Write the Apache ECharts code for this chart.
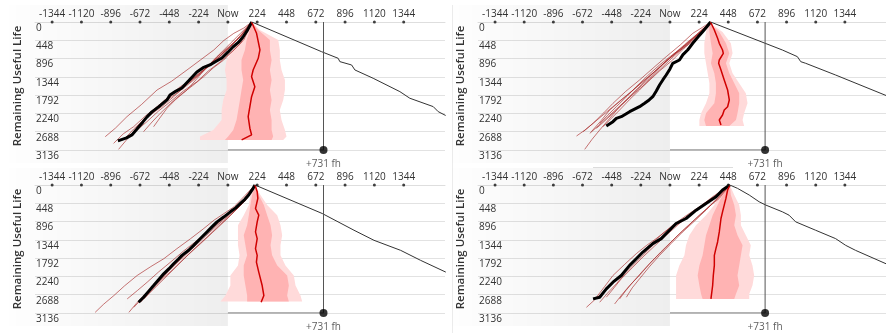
<!DOCTYPE html>
<html><head><meta charset="utf-8">
<style>html,body{margin:0;padding:0;background:#fff}#c{width:886px;height:336px}</style>
<script src="https://cdn.jsdelivr.net/npm/echarts@6/dist/echarts.min.js"></script>
</head><body><div id="c"></div>
<script>
// ---------- axes ----------
const xTicks = [-1344,-1120,-896,-672,-448,-224,0,224,448,672,896,1120,1344];
const X_MIN = -1475, X_MAX = 1660;
const Y_MAX = 3136, Y_STEP = 448;
const markerFh = 731;        // vertical marker (+731 fh)
const markerRul = 3136;      // level of the horizontal marker

// ---------- panel 1 (top-left) ----------
const p1Actual = [[-841,2913],[-775,2840],[-734,2766],[-700,2640],[-650,2448],[-620,2330],[-581,2203],[-530,2080],[-466,1910],[-443,1787],[-400,1700],[-352,1616],[-300,1440],[-237,1224],[-190,1120],[-138,1053],[-90,960],[-46,881],[0,740],[38,612],[80,500],[115,367],[150,200],[183,0]];
const p1Samples = [
 [[-938,2810],[-860,2600],[-772,2319],[-660,2020],[-542,1666],[-430,1450],[-313,1176],[-210,930],[-108,686],[-30,450],[45,278],[120,150],[183,0]],
 [[-836,3120],[-760,2830],[-670,2483],[-590,2260],[-491,1993],[-400,1700],[-313,1503],[-210,1230],[-108,1012],[-20,700],[70,441],[130,230],[183,0]],
 [[-568,2565],[-520,2350],[-466,2115],[-400,1900],[-313,1666],[-240,1400],[-159,1094],[-70,850],[19,605],[100,330],[183,0]],
 [[-798,2891],[-720,2620],[-645,2401],[-560,2180],[-466,1911],[-370,1700],[-262,1421],[-170,1150],[-83,850],[10,600],[96,360],[183,0]],
 [[-874,2973],[-800,2740],[-721,2565],[-630,2300],[-542,2074],[-450,1820],[-364,1584],[-270,1400],[-185,1176],[-90,920],[-6,686],[90,350],[183,0]],
 [[-721,2728],[-660,2480],[-594,2278],[-500,2060],[-415,1829],[-310,1520],[-210,1258],[-130,1000],[-57,768],[20,520],[96,278],[183,0]],
 [[-645,2687],[-580,2450],[-517,2238],[-440,2000],[-364,1788],[-270,1560],[-185,1339],[-110,1120],[-32,931],[40,700],[96,523],[183,0]],
 [[-772,2850],[-700,2660],[-619,2442],[-530,2180],[-440,1952],[-340,1690],[-236,1462],[-150,1200],[-57,972],[40,700],[121,441],[183,0]]
];
const p1BandRul = [0,196,440,685,930,1175,1420,1665,1910,2154,2399,2644,2807,2889];
const p1OuterL  = [183,155,117,41,-10,-23,-10,-10,-36,-48,-48,-112,-214,-214];
const p1InnerL  = [183,168,143,130,104,104,117,104,92,79,66,41,2,-23];
const p1InnerR  = [183,232,321,321,334,321,334,321,334,321,334,334,346,334];
const p1OuterR  = [183,244,385,397,397,410,436,436,423,397,410,436,448,423];
const p1Median  = [[181,0],[219,277],[245,685],[232,889],[193,1175],[181,1339],[206,1584],[181,1829],[168,2073],[155,2318],[168,2602],[181,2766],[105,2889]];
const p1Forecast = [[183,0],[716,727],[843,889],[856,971],[946,1053],[971,1175],[1111,1379],[1315,1706],[1391,1868],[1570,2073],[1608,2196],[1665,2290]];

// ---------- panel 2 (top-right) ----------
const p2Actual = [[-489,2548],[-438,2442],[-412,2360],[-374,2320],[-310,2197],[-234,2075],[-195,1992],[-160,1910],[-132,1830],[-105,1690],[-80,1544],[-55,1420],[-29,1299],[0,1150],[21,1012],[73,931],[100,800],[136,686],[175,522],[215,370],[251,237],[285,110],[312,0]];
const p2Samples = [
 [[-718,2793],[-650,2640],[-591,2483],[-510,2230],[-438,1993],[-340,1700],[-234,1421],[-130,1130],[-29,850],[80,560],[175,278],[250,130],[312,0]],
 [[-655,3120],[-600,2880],[-540,2646],[-460,2350],[-387,2074],[-290,1790],[-182,1503],[-80,1200],[21,931],[110,640],[200,360],[312,0]],
 [[-565,2606],[-500,2420],[-438,2238],[-370,2030],[-310,1829],[-220,1540],[-132,1258],[-30,960],[73,686],[150,470],[226,278],[312,0]],
 [[-616,2728],[-550,2540],[-489,2360],[-410,2130],[-335,1911],[-250,1650],[-157,1380],[-70,1090],[21,809],[110,560],[200,319],[312,0]],
 [[-514,2565],[-450,2360],[-387,2156],[-310,1900],[-234,1666],[-160,1420],[-80,1176],[10,900],[98,646],[180,420],[251,237],[312,0]],
 [[-667,2687],[-590,2480],[-514,2278],[-440,2080],[-361,1870],[-280,1660],[-208,1462],[-100,1170],[-4,890],[90,640],[175,400],[312,0]],
 [[-540,2483],[-480,2290],[-412,2074],[-330,1820],[-259,1584],[-170,1310],[-80,1053],[20,800],[124,564],[220,280],[312,0]],
 [[-604,2687],[-530,2420],[-463,2156],[-380,1930],[-297,1707],[-210,1460],[-119,1217],[-40,990],[47,768],[140,560],[226,360],[312,0]]
];
const p2BandRul = [0,82,245,522,767,1012,1257,1502,1747,1992,2238,2401,2548];
const p2OuterL  = [312,290,277,264,264,277,290,303,303,277,239,226,226];
const p2InnerL  = [312,300,303,315,328,315,341,353,353,341,277,264,277];
const p2InnerR  = [312,320,379,430,456,430,456,494,532,532,519,507,456];
const p2OuterR  = [312,330,404,468,481,456,481,532,583,596,570,558,570];
const p2Median  = [[312,0],[341,196],[366,400],[379,522],[404,686],[410,767],[379,931],[374,1012],[392,1176],[417,1421],[443,1666],[456,1911],[443,2075],[417,2156],[404,2279],[379,2401],[392,2524]];
const p2Forecast = [[312,0],[864,686],[979,849],[1005,972],[1043,1012],[1273,1299],[1660,1800]];

// ---------- panel 3 (bottom-left) ----------
const p3Actual = [[-683,2873],[-645,2750],[-605,2600],[-568,2463],[-530,2320],[-491,2176],[-450,2050],[-415,1929],[-380,1820],[-351,1724],[-300,1600],[-262,1478],[-210,1310],[-159,1149],[-120,1020],[-83,903],[-30,780],[19,657],[60,560],[96,452],[130,350],[159,246],[185,120],[207,0]];
const p3Samples = [
 [[-1015,3120],[-950,2920],[-872,2709],[-790,2470],[-694,2217],[-590,2000],[-490,1806],[-390,1560],[-285,1314],[-190,1080],[-106,862],[-30,700],[47,534],[130,260],[207,0]],
 [[-770,2791],[-690,2580],[-617,2381],[-530,2130],[-438,1888],[-340,1620],[-234,1355],[-140,1100],[-55,862],[20,640],[98,452],[150,220],[207,0]],
 [[-757,3120],[-700,2900],[-643,2709],[-580,2500],[-515,2299],[-440,2060],[-362,1806],[-270,1510],[-183,1232],[-90,980],[-4,739],[80,500],[149,287],[207,0]],
 [[-719,2997],[-650,2760],[-592,2545],[-510,2300],[-438,2052],[-350,1790],[-260,1519],[-170,1250],[-81,985],[10,740],[98,493],[160,250],[207,0]],
 [[-643,2791],[-590,2620],[-541,2463],[-460,2210],[-387,1970],[-300,1700],[-209,1437],[-120,1170],[-30,903],[50,650],[124,411],[207,0]],
 [[-668,2873],[-590,2600],[-515,2340],[-420,2070],[-336,1806],[-250,1540],[-158,1273],[-70,1000],[21,739],[90,520],[149,328],[207,0]]
];
const p3BandRul = [0,246,493,739,985,1232,1478,1724,1970,2217,2463,2709,2857];
const p3OuterL  = [207,172,160,121,77,77,77,89,77,19,19,-19,-57];
const p3InnerL  = [207,185,172,160,147,121,134,147,121,121,134,147,147];
const p3InnerR  = [207,236,275,300,326,338,326,338,377,453,466,453,466];
const p3OuterR  = [207,249,300,377,402,415,402,402,440,504,517,555,568];
const p3Median  = [[207,0],[224,164],[229,328],[211,575],[236,739],[224,903],[211,1149],[224,1314],[211,1560],[224,1724],[218,1888],[236,2134],[262,2463],[275,2709],[254,2873]];
const p3Forecast = [[207,0],[721,698],[964,1108],[1117,1355],[1321,1601],[1474,1847],[1666,2134]];

// ---------- panel 4 (bottom-right) ----------
const p4Actual = [[-591,2791],[-540,2750],[-489,2545],[-438,2381],[-374,2217],[-310,1970],[-259,1806],[-208,1642],[-132,1437],[-67,1314],[-4,1108],[47,944],[124,821],[201,616],[277,452],[354,287],[404,123],[460,0]];
const p4Samples = [
 [[-642,2997],[-560,2760],[-489,2545],[-410,2300],[-335,2052],[-250,1760],[-157,1478],[-70,1230],[21,985],[120,760],[226,534],[300,370],[379,205],[460,0]],
 [[-425,2914],[-370,2690],[-310,2463],[-230,2200],[-157,1929],[-70,1640],[21,1355],[110,1080],[200,821],[280,590],[354,369],[460,0]],
 [[-387,2791],[-340,2590],[-285,2381],[-210,2110],[-132,1847],[-40,1560],[47,1273],[140,1000],[226,739],[300,530],[379,328],[460,0]],
 [[-335,2750],[-290,2520],[-234,2299],[-160,2010],[-80,1724],[10,1430],[98,1149],[190,880],[277,616],[370,300],[460,0]],
 [[-540,2873],[-480,2650],[-412,2422],[-340,2150],[-259,1888],[-170,1600],[-80,1314],[10,1080],[98,862],[190,650],[277,452],[370,220],[460,0]],
 [[-489,2750],[-430,2520],[-374,2299],[-290,2030],[-208,1765],[-120,1500],[-29,1232],[60,980],[149,739],[240,510],[328,287],[460,0]],
 [[-565,2750],[-500,2480],[-438,2217],[-350,1950],[-259,1683],[-180,1480],[-106,1314],[-20,1100],[73,903],[170,680],[277,452],[370,220],[460,0]]
];
const p4BandRul = [0,246,493,739,985,1232,1478,1724,1970,2217,2463,2668,2791];
const p4OuterL  = [460,379,341,277,200,149,123,111,72,47,47,47,47];
const p4InnerL  = [460,404,366,328,303,277,264,251,226,213,226,239,251];
const p4InnerR  = [460,468,494,507,494,519,558,545,532,519,532,507,494];
const p4OuterR  = [460,494,532,545,545,583,621,609,634,647,634,609,609];
const p4Median  = [[460,0],[443,123],[430,328],[417,493],[404,657],[392,821],[379,1149],[366,1396],[353,1560],[341,1724],[341,1970],[333,2217],[328,2463],[315,2791]];
const p4Forecast = [[460,0],[519,82],[609,246],[685,411],[737,493],[864,657],[915,739],[966,903],[1119,1108],[1273,1314],[1350,1478],[1426,1601],[1660,1929]];

// ---------- build ----------
const FONT = "'Open Sans', sans-serif";
const panels = [
 {actual:p1Actual, samples:p1Samples, rul:p1BandRul, oL:p1OuterL, iL:p1InnerL, iR:p1InnerR, oR:p1OuterR, median:p1Median, forecast:p1Forecast},
 {actual:p2Actual, samples:p2Samples, rul:p2BandRul, oL:p2OuterL, iL:p2InnerL, iR:p2InnerR, oR:p2OuterR, median:p2Median, forecast:p2Forecast},
 {actual:p3Actual, samples:p3Samples, rul:p3BandRul, oL:p3OuterL, iL:p3InnerL, iR:p3InnerR, oR:p3OuterR, median:p3Median, forecast:p3Forecast},
 {actual:p4Actual, samples:p4Samples, rul:p4BandRul, oL:p4OuterL, iL:p4InnerL, iR:p4InnerR, oR:p4OuterR, median:p4Median, forecast:p4Forecast}
];
const gridPos = [
 {left:35, top:22, width:410, height:128},
 {left:478, top:22, width:410, height:128},
 {left:35, top:185, width:410, height:128},
 {left:478, top:185, width:410, height:128}
];

const grid = [], xAxis = [], yAxis = [], series = [];
panels.forEach((p, i) => {
  grid.push(Object.assign({containLabel:false}, gridPos[i]));
  xAxis.push({
    gridIndex:i, type:'value', position:'top', min:X_MIN, max:X_MAX,
    axisLine:{show:true, lineStyle:{color:'#dedede', width:1}},
    axisTick:{show:false, customValues:xTicks},
    axisLabel:{customValues:xTicks, formatter:v => v === 0 ? 'Now' : String(v), fontSize:10, color:'#333', margin:3, fontFamily:FONT},
    splitLine:{show:false}
  });
  yAxis.push({
    gridIndex:i, type:'value', inverse:true, min:0, max:Y_MAX, interval:Y_STEP,
    name:'Remaining Useful Life', nameLocation:'middle', nameGap:11,
    nameTextStyle:{fontSize:11.5, fontWeight:600, color:'#333', fontFamily:FONT},
    axisLine:{show:false}, axisTick:{show:false},
    axisLabel:{inside:true, margin:1, align:'left', verticalAlign:'top', fontSize:10, color:'#333', fontFamily:FONT, padding:[1,0,0,0], formatter:v => String(v)},
    splitLine:{show:true, lineStyle:{color:'#e2e2e2', width:1}}
  });
  const ax = {xAxisIndex:i, yAxisIndex:i};
  // history shading (past, left of "Now")
  series.push(Object.assign({
    type:'custom', clip:false, silent:true, z:1, data:[[X_MIN, 0]],
    renderItem:(params, api) => {
      const a = api.coord([X_MIN, 0]), b = api.coord([0, Y_MAX]);
      const x0 = a[0] - 26, y0 = a[1] - 17, y1 = b[1] + 13;
      return {type:'rect', shape:{x:x0, y:y0, width:b[0]-x0, height:y1-y0},
        style:{fill:new echarts.graphic.LinearGradient(0,0,1,0,[{offset:0,color:'rgba(0,0,0,0.003)'},{offset:1,color:'rgba(0,0,0,0.065)'}])}};
    }
  }, ax));
  // prediction bands
  series.push(Object.assign({
    type:'custom', silent:true, z:2, data:[[0,0]],
    renderItem:(params, api) => {
      const poly = (L, R) => p.rul.map((r,k) => api.coord([L[k], r])).concat(p.rul.map((r,k) => api.coord([R[k], r])).reverse());
      return {type:'group', children:[
        {type:'polygon', shape:{points:poly(p.oL, p.oR)}, style:{fill:'#ffdada'}},
        {type:'polygon', shape:{points:poly(p.iL, p.iR)}, style:{fill:'#ffb3b3'}}
      ]};
    }
  }, ax));
  p.samples.forEach(s => series.push(Object.assign({
    type:'line', data:s, symbol:'none', silent:true, z:3,
    lineStyle:{color:'rgba(165,35,35,0.7)', width:0.9}
  }, ax)));
  series.push(Object.assign({type:'line', data:p.actual, symbol:'none', silent:true, z:4, lineStyle:{color:'#000', width:3}}, ax));
  series.push(Object.assign({type:'line', data:p.median, symbol:'none', silent:true, z:5, lineStyle:{color:'#d00000', width:1.5}}, ax));
  series.push(Object.assign({type:'line', data:p.forecast, symbol:'none', silent:true, z:5, lineStyle:{color:'#333', width:1}}, ax));
  // markers
  series.push(Object.assign({type:'line', data:[[markerFh,0],[markerFh,markerRul]], symbol:'none', silent:true, z:5, lineStyle:{color:'#555', width:1}}, ax));
  series.push(Object.assign({type:'line', data:[[0,markerRul],[markerFh,markerRul]], symbol:'none', silent:true, z:5, lineStyle:{color:'#999', width:1.6}}, ax));
  series.push(Object.assign({type:'scatter', data:[[markerFh,markerRul]], symbolSize:8, silent:true, z:6, clip:false,
    itemStyle:{color:'#000'},
    label:{show:true, position:'bottom', distance:5, formatter:'+' + markerFh + ' fh', fontSize:10, color:'#333', fontFamily:FONT}}, ax));
  // tick dots on the time axis
  series.push(Object.assign({type:'scatter', data:xTicks.map(v => [v, 0]), symbolSize:3, silent:true, z:6, clip:false, itemStyle:{color:'#111'}}, ax));
});

const chart = echarts.init(document.getElementById('c'), null, {renderer:'canvas'});
chart.setOption({
  animation:false,
  textStyle:{fontFamily:FONT},
  grid, xAxis, yAxis, series,
  graphic:[
    {type:'line', shape:{x1:452.5, y1:5, x2:452.5, y2:333}, style:{stroke:'#ececec', lineWidth:1}, silent:true},
    {type:'line', shape:{x1:593, y1:167.5, x2:733, y2:167.5}, style:{stroke:'#dcdcdc', lineWidth:1}, silent:true}
  ]
});
</script></body></html>
